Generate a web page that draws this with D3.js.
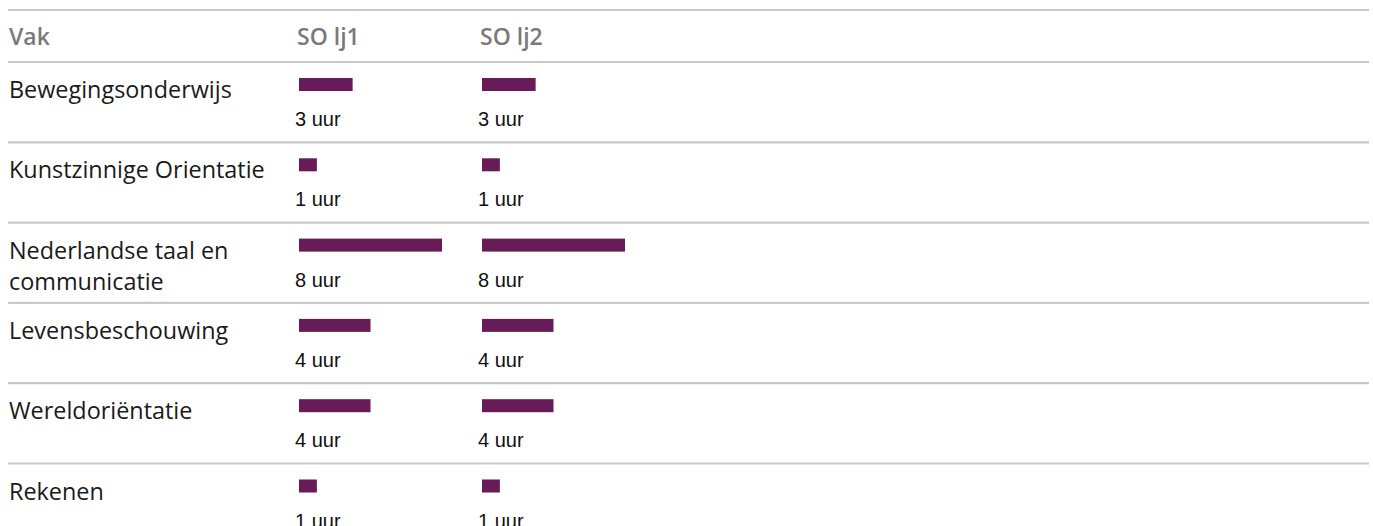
<!DOCTYPE html>
<html>
<head>
<meta charset="utf-8">
<script src="https://cdn.jsdelivr.net/npm/d3@7"></script>
<style>
  body { margin: 0; background: #fff; }
  svg { display: block; }
</style>
</head>
<body>
<script>
// Data
const subjects = ['Bewegingsonderwijs', 'Kunstzinnige Orientatie', 'Nederlandse taal en communicatie', 'Levensbeschouwing', 'Wereldoriëntatie', 'Rekenen'];
const columns = ['SO lj1', 'SO lj2'];
const lj1 = [3, 1, 8, 4, 4, 1];
const lj2 = [3, 1, 8, 4, 4, 1];
const unit = 'uur';

const width = 1373, height = 526;
const rowTop = 62, rowH = 80.3;

const svg = d3.select('body').append('svg')
    .attr('width', width)
    .attr('height', height);

// Scales
const yScale = d3.scaleBand()
    .domain(subjects)
    .range([rowTop, rowTop + rowH * subjects.length]);

const colScale = d3.scaleBand()
    .domain(columns)
    .range([298, 298 + 183 * columns.length]);

const wScale = d3.scaleLinear()
    .domain([0, 8])
    .range([0, 143]);

const values = { 'SO lj1': lj1, 'SO lj2': lj2 };

// Horizontal rules
const ruleYs = [10, ...subjects.map(s => yScale(s))];
svg.selectAll('.rule')
    .data(ruleYs)
    .join('line')
    .attr('class', 'rule')
    .attr('x1', 8).attr('x2', 1369)
    .attr('y1', d => d).attr('y2', d => d)
    .attr('stroke', '#c9c9c9')
    .attr('stroke-width', 2.2);

// Header
const header = svg.append('g')
    .style('font-family', '"Open Sans", sans-serif')
    .style('font-size', '23px')
    .style('font-weight', '600')
    .style('fill', '#7a7a7a');

header.append('text').attr('x', 9).attr('y', 45).text('Vak');
header.selectAll('.col-head')
    .data(columns)
    .join('text')
    .attr('class', 'col-head')
    .attr('x', d => colScale(d) - 1)
    .attr('y', 45)
    .text(d => d);

// Subject names (wrapped)
const names = svg.selectAll('.subject')
    .data(subjects)
    .join('text')
    .attr('class', 'subject')
    .attr('x', 9)
    .attr('y', d => yScale(d) + 36)
    .style('font-family', '"Open Sans", sans-serif')
    .style('font-size', '23.4px')
    .style('fill', '#1a1a1a');

names.each(function (d) {
    const el = d3.select(this);
    const words = d.split(' ');
    let line = [];
    let tspan = el.append('tspan').attr('x', 9).attr('dy', 0);
    words.forEach(w => {
        line.push(w);
        tspan.text(line.join(' '));
        if (tspan.node().getComputedTextLength() > 275 && line.length > 1) {
            line.pop();
            tspan.text(line.join(' '));
            line = [w];
            tspan = el.append('tspan').attr('x', 9).attr('dy', 31).text(w);
        }
    });
});

// Bars and labels per column
columns.forEach(col => {
    const g = svg.append('g').attr('class', 'col');
    const vals = values[col];

    g.selectAll('rect')
        .data(subjects)
        .join('rect')
        .attr('x', colScale(col) + 1)
        .attr('y', d => yScale(d) + 16)
        .attr('width', (d, i) => wScale(vals[i]))
        .attr('height', 13)
        .attr('fill', '#671c59');

    g.selectAll('text')
        .data(subjects)
        .join('text')
        .attr('x', colScale(col) - 3)
        .attr('y', d => yScale(d) + 64)
        .style('font-family', '"Liberation Sans", Arial, sans-serif')
        .style('font-size', '20px')
        .style('fill', '#111')
        .text((d, i) => `${vals[i]} ${unit}`);
});
</script>
</body>
</html>
